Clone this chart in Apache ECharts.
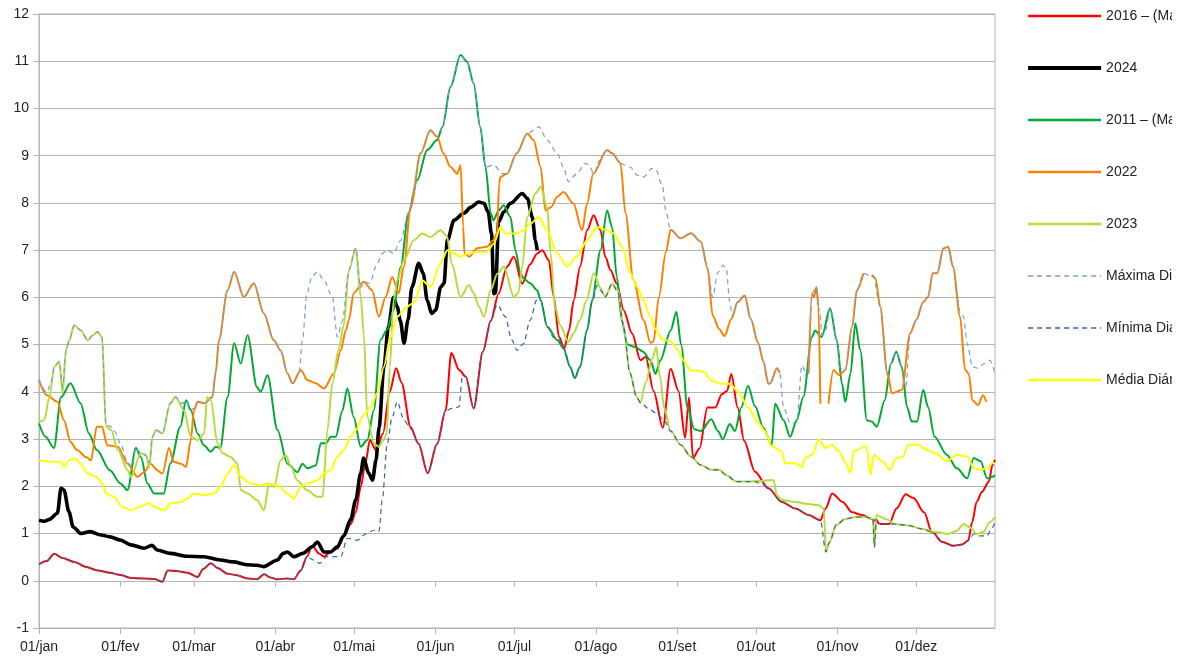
<!DOCTYPE html>
<html>
<head>
<meta charset="utf-8">
<title>Série diária</title>
<script src="https://cdn.jsdelivr.net/npm/echarts@6/dist/echarts.min.js"></script>
<style>
  html, body { margin: 0; padding: 0; background: #fff; }
  #main { width: 1172px; height: 664px; overflow: hidden; }
</style>
</head>
<body>
<div id="main"></div>
<script>
// dia do ano (0 = 01/jan) onde começa cada mês
const monthDays = [0, 31, 59, 90, 120, 151, 181, 212, 243, 273, 304, 334]
const monthLabels = ['01/jan', '01/fev', '01/mar', '01/abr', '01/mai', '01/jun', '01/jul', '01/ago', '01/set', '01/out', '01/nov', '01/dez']

const seriesNames = ['2016 – (Ma', '2024', '2011 – (Ma', '2022', '2023', 'Máxima Diária', 'Mínima Diária', 'Média Diária']

// [dia, valor]
const s2016 = [[0,0.35],[3,0.42],[5.8,0.57],[9,0.48],[13.4,0.4],[18,0.29],[22.3,0.22],[27,0.17],[31,0.12],[35,0.06],[40,0.05],[44,0.04],[47,-0.02],[49,0.22],[53,0.2],[56.5,0.17],[60.4,0.08],[62.5,0.25],[65.4,0.37],[68,0.27],[71.8,0.15],[75,0.12],[79.4,0.05],[83,0.03],[85.7,0.14],[88,0.07],[90.8,0.03],[94.6,0.05],[97,0.03],[99.7,0.22],[102,0.51],[104,0.74],[106.6,0.58],[108.5,0.51],[111,0.61],[113.6,0.68],[116,0.93],[118.7,1.2],[120.6,1.45],[122.5,1.98],[124.3,2.5],[126,2.98],[128.3,2.76],[131,3.12],[133.5,4.0],[136,4.5],[138,4.2],[141.5,3.25],[144.5,2.9],[148,2.28],[151.6,2.9],[154.8,3.6],[157,4.82],[160,4.46],[162.5,4.32],[165.5,3.65],[169,4.85],[172,5.5],[175,6.08],[178.2,6.65],[180.8,6.86],[184,6.29],[187,6.7],[189.7,6.93],[191.6,7.0],[194.1,6.79],[196,6.01],[198,5.16],[200,4.92],[201.8,5.3],[203.6,5.94],[206,6.65],[208.7,7.42],[211.2,7.74],[213.8,7.42],[215.6,6.86],[217.6,6.58],[220,6.29],[222.6,5.73],[225.8,5.24],[229,4.67],[231,4.74],[234,4.02],[237.5,3.24],[240.5,4.49],[243.5,4.02],[246,3.03],[247.5,3.88],[249,2.6],[251.5,2.8],[254.5,3.67],[257.5,3.67],[260,3.95],[262,4.02],[263.6,4.38],[266,3.67],[268.5,2.96],[272.6,2.31],[277.7,1.96],[282.8,1.67],[288,1.53],[293,1.39],[297.5,1.28],[299.5,1.53],[302,1.85],[306,1.67],[309.6,1.45],[313.5,1.39],[317,1.31],[320.5,1.2],[323.7,1.2],[326.5,1.53],[330,1.83],[333,1.75],[337,1.45],[340,1.03],[344,0.82],[348,0.74],[351.5,0.77],[353.8,0.85],[355.3,1.24],[357,1.67],[359,1.88],[361.7,2.1],[363,2.45],[364,2.56]]

const s2024 = [[0,1.28],[2,1.26],[4,1.3],[7,1.43],[8.4,1.96],[9.5,1.92],[11.4,1.46],[13,1.14],[16,1.0],[19.5,1.04],[23.6,0.97],[27,0.93],[31,0.86],[35,0.76],[40,0.69],[43,0.75],[45,0.65],[50,0.58],[56,0.52],[62.8,0.51],[69,0.44],[74,0.4],[79,0.34],[83,0.33],[85.5,0.3],[90.8,0.44],[93,0.58],[94.6,0.61],[97,0.51],[100.5,0.58],[104,0.72],[106,0.82],[108.5,0.61],[111,0.61],[113.6,0.72],[116,0.95],[118.7,1.3],[120.6,1.71],[122.5,2.28],[123.6,2.6],[125.5,2.28],[127,2.13],[128.3,2.55],[129.5,3.25],[131.3,4.52],[133,5.37],[135,6.0],[136.4,5.8],[137.6,5.5],[139,5.03],[140.5,5.52],[142,6.22],[144.6,6.72],[146.3,6.51],[147.8,5.94],[149.5,5.66],[151,5.73],[153,6.22],[154.2,6.3],[155.5,7.21],[158,7.63],[161.7,7.78],[164.5,7.91],[167.4,8.02],[169.4,7.99],[171,7.81],[172.3,7.35],[173.2,6.08],[173.8,6.1],[175,7.6],[177,7.81],[179.5,7.99],[184,8.2],[186,8.09],[187.8,7.7],[189,7.21],[189.7,7.0]]

const s2011 = [[0,3.33],[2.5,3.05],[5.7,2.81],[8.4,3.89],[12,4.18],[15.8,3.76],[19,3.12],[22,2.77],[27,2.34],[31,2.06],[33.7,1.92],[36.9,2.81],[38.8,2.62],[41.3,2.06],[43.8,1.85],[47.5,1.85],[50,2.48],[53.8,3.26],[56,3.82],[57.8,3.61],[60.4,3.12],[62.8,2.87],[65.4,2.73],[67.3,2.84],[69,2.81],[71.8,3.89],[74.3,5.03],[76.8,4.6],[79.4,5.2],[83,4.1],[84.4,4.0],[87,4.35],[90.8,3.19],[94.6,2.48],[98.4,2.3],[100.3,2.48],[102.2,2.38],[105.4,2.44],[107.3,2.91],[109.2,2.91],[111.1,3.05],[113,3.05],[115.5,3.6],[117.4,4.07],[119.8,3.47],[122.5,2.84],[125,2.98],[127.5,3.61],[130,5.1],[132.5,5.31],[135,5.73],[137.7,6.65],[140.7,7.78],[144,8.48],[147.8,9.12],[151.6,9.33],[153.6,9.61],[156.7,10.46],[160.5,11.13],[163,10.99],[165.5,10.53],[168,9.61],[170,8.76],[172,7.78],[173,7.63],[175,7.84],[176.9,7.95],[179.5,7.7],[181.4,7.0],[183.3,6.51],[184.5,6.4],[187,6.3],[189.7,6.15],[191,5.94],[193.5,5.38],[197.3,5.1],[199.7,4.92],[202.2,4.53],[204,4.29],[206,4.53],[208.7,5.31],[210.6,5.94],[213.8,7.0],[216.3,7.84],[218.2,7.49],[220,6.43],[221.9,5.52],[224,5.0],[227,4.95],[230,4.85],[232.8,4.67],[234.7,4.38],[236.6,4.67],[240.5,5.3],[242.7,5.69],[244.5,5.0],[246.9,3.67],[249.5,3.21],[252,3.17],[256,3.42],[258.5,3.17],[260.4,3.0],[263,3.32],[265,3.17],[267.4,3.67],[270,4.13],[272.6,3.7],[275.8,3.24],[279,2.88],[280.3,3.75],[283.5,3.4],[286,3.05],[288.5,3.4],[291,3.89],[294.3,5.16],[295.5,5.3],[298,5.16],[301.2,5.77],[303.8,5.09],[305.7,4.18],[307,3.79],[309,4.39],[310.8,5.45],[312.7,4.88],[315.2,3.4],[317,3.37],[319,3.26],[322,3.82],[324.4,4.6],[326.4,4.85],[328.5,4.53],[330.5,3.68],[332.3,3.37],[334.3,3.37],[336.7,4.04],[338.5,3.68],[341,3.05],[345.6,2.67],[349.5,2.38],[353.4,2.17],[355.9,2.6],[358.5,2.53],[361,2.17],[363,2.2],[364,2.24]]

const s2022 = [[0,4.25],[3,3.93],[7,3.79],[9.5,3.4],[12,2.94],[14.5,2.77],[17.9,2.62],[19.8,2.55],[22,3.26],[24,3.26],[26,2.87],[30,2.84],[33.7,2.48],[37.5,2.2],[40,2.3],[42.5,2.48],[45,2.34],[47,2.27],[49.5,2.81],[51.3,2.52],[54,2.48],[56,2.41],[57.8,2.98],[59,3.61],[60.4,3.79],[63,3.76],[66,3.89],[67.3,4.42],[68.5,5.09],[71.8,6.15],[74.3,6.54],[78,6.01],[81.8,6.3],[85.6,5.66],[89.4,5.09],[92,4.88],[94.6,4.39],[96.5,4.18],[99.7,4.46],[102.2,4.25],[105.4,4.18],[108.5,4.07],[112.3,4.39],[114.9,4.88],[116.8,5.3],[118,5.52],[119.8,6.09],[123.6,6.33],[126.8,6.15],[129.4,5.59],[132,6.01],[134.5,6.43],[137,6.09],[138.9,6.65],[141.5,7.91],[145.3,9.05],[149,9.54],[151.6,9.4],[154,9.05],[156.7,8.76],[159.2,8.62],[160.5,8.8],[161.5,7.5],[162,6.93],[163.8,6.86],[166.8,7.04],[170.5,7.07],[173,7.21],[174.4,7.36],[175.2,8.4],[175.7,8.55],[178.2,8.62],[181.9,9.05],[185.9,9.47],[188.3,9.33],[191,8.76],[192.8,7.84],[195,7.91],[197.3,8.13],[199.7,8.23],[203.5,7.99],[206.8,7.42],[208.7,7.99],[211,8.62],[216.3,9.12],[218.2,9.05],[221.4,8.84],[223.3,7.78],[226.3,6.37],[230.2,5.52],[232.8,5.04],[234,5.07],[236,6.0],[238.7,6.96],[240.5,7.43],[244.3,7.25],[248.2,7.36],[252,7.18],[254.6,6.61],[256.5,5.61],[259,5.33],[261,5.18],[263.6,5.54],[266,5.9],[268.7,6.04],[271,5.54],[273.8,5.04],[275.8,4.65],[277.7,4.17],[278.4,4.18],[281,4.5],[282,4.4],[282.5,null],[293,4.39],[294.3,6.08],[295,6.0],[296,6.22],[296.8,5.8],[297.5,3.75],[298,null],[300.6,3.75],[302.5,4.46],[304.7,4.35],[307,4.46],[309.6,5.38],[311.4,6.15],[313.9,6.51],[314.5,null],[317,6.47],[318.5,6.4],[320.3,5.8],[323,4.39],[324.8,3.97],[328.5,4.04],[331.7,5.24],[334,5.52],[336.7,5.9],[338.5,6.01],[340.3,6.51],[342,6.51],[344.4,7.04],[346.2,7.07],[348,6.65],[350.7,5.59],[352.6,4.46],[354,4.39],[355.4,3.82],[357.5,3.72],[359.4,3.93],[360.7,3.79]]

const s2023 = [[0,3.36],[2,3.4],[4,3.89],[5.8,4.53],[7.7,4.64],[9,3.97],[10.3,4.88],[11.5,5.09],[13.4,5.41],[16,5.3],[18.5,5.09],[20.5,5.2],[22.3,5.27],[24,5.16],[25.5,3.26],[27.5,3.19],[30,2.77],[33.8,2.34],[35,2.2],[38.8,2.7],[40.7,2.66],[42,2.41],[43.2,3.05],[44.5,3.19],[47,3.12],[50,3.76],[52,3.89],[55.2,3.61],[57.8,3.05],[60.4,2.98],[62.9,3.12],[64,3.89],[65.4,3.82],[68,2.91],[69.9,2.7],[73,2.62],[75.6,2.48],[76.8,1.92],[79.4,1.85],[83,1.71],[85.7,1.49],[87.6,2.06],[89.5,1.99],[92,2.55],[94,2.66],[96,2.41],[98.3,2.13],[102,1.92],[106,1.78],[108,1.78],[109.8,3.19],[111.7,4.18],[114,4.88],[116,5.4],[118,6.58],[120.6,7.04],[122.5,6.01],[123.7,5.2],[125,3.47],[127.5,2.91],[129.3,2.84],[131.2,2.98],[132.4,3.12],[133.6,4.53],[135,5.94],[136.4,6.36],[139,6.79],[142.7,7.21],[146,7.35],[149,7.28],[152.9,7.42],[155.3,7.3],[157.2,6.7],[160.5,6.01],[163.7,6.26],[165.6,6.08],[167.5,5.8],[169.4,5.59],[172,6.15],[174.5,6.5],[177,6.65],[180.8,6.01],[182.5,6.1],[184,6.65],[185.9,7.7],[189,8.2],[191,8.34],[193.5,7.91],[194.8,6.93],[196.5,5.8],[198.5,5.4],[201.6,5.06],[203.5,5.24],[206,5.52],[208.5,5.94],[211.2,6.51],[213.8,6.2],[215.6,6.01],[218.2,6.29],[220.5,6.15],[222.5,5.4],[225,4.4],[227.5,3.9],[229,3.77],[231,4.2],[233.5,4.7],[235,4.95],[236.5,4.3],[238,3.67],[240.5,3.17],[244.3,2.88],[248.2,2.63],[252,2.45],[256,2.35],[259,2.35],[261.6,2.24],[265.5,2.1],[270,2.1],[274,2.11],[277.7,2.13],[279.7,2.13],[280.9,1.81],[282.8,1.71],[288,1.67],[292,1.63],[296.9,1.6],[298.8,1.53],[299.6,0.61],[301,0.82],[303.5,1.18],[307,1.31],[311,1.35],[315,1.35],[317.5,1.31],[318.1,0.71],[318.8,1.39],[322.4,1.31],[326,1.2],[331,1.17],[336,1.1],[341.8,1.03],[346,0.99],[349.5,1.06],[352,1.2],[354.5,1.13],[357,0.99],[359.5,1.03],[362,1.24],[364,1.35]]

const maxDaily = [[0,4.25],[3,3.98],[4.5,4.2],[5.8,4.53],[7.7,4.64],[9,4.1],[10.3,4.88],[11.5,5.09],[13.4,5.41],[16,5.3],[18.5,5.09],[20.5,5.2],[22.3,5.27],[24,5.16],[25.5,3.3],[27.5,3.26],[29,3.15],[31,2.9],[33.8,2.5],[35.5,2.4],[36.9,2.81],[38.8,2.7],[40.7,2.66],[42,2.5],[43.2,3.05],[44.5,3.19],[47,3.12],[50,3.76],[52,3.89],[54.5,3.75],[56,3.82],[57.8,3.61],[59,3.65],[60.4,3.79],[63,3.76],[65.4,3.85],[66,3.89],[67.3,4.42],[68.5,5.09],[71.8,6.15],[74.3,6.54],[78,6.01],[81.8,6.3],[85.6,5.66],[89.4,5.09],[92,4.88],[94.6,4.39],[96.5,4.18],[99,4.4],[100.3,5.09],[102,6.08],[104,6.45],[106,6.54],[108.5,6.36],[111.7,6.01],[113.6,5.16],[115.5,5.5],[118,6.58],[120.6,7.04],[122.5,6.2],[123.6,6.33],[126,6.3],[128.3,6.65],[130.7,6.93],[132.6,7.0],[135,6.93],[137.7,7.21],[140.7,7.78],[142.5,8.2],[145.3,9.05],[149,9.54],[151.6,9.4],[153.6,9.61],[156.7,10.46],[160.5,11.13],[163,10.99],[165.5,10.53],[168,9.61],[170,8.76],[173.2,8.8],[176.4,8.62],[178.2,8.62],[181.9,9.05],[185.9,9.47],[190.3,9.61],[193.5,9.33],[197.3,9.05],[199.7,8.76],[201.6,8.45],[204.8,8.62],[208,8.84],[209.5,8.8],[211.2,8.62],[213.5,8.9],[216.3,9.12],[218.2,9.05],[221.4,8.84],[223.3,8.8],[225.2,8.76],[227.7,8.59],[230.2,8.55],[233.4,8.73],[235,8.69],[237.4,8.34],[238.7,7.82],[240.5,7.43],[244.3,7.25],[248.2,7.36],[252,7.18],[254.6,6.61],[256.5,6.0],[258.5,6.53],[260.5,6.68],[261.7,6.6],[263,5.9],[264,5.6],[266,5.9],[268.7,6.04],[271,5.54],[273.8,5.04],[275.8,4.65],[277.7,4.17],[278.4,4.18],[281,4.5],[282,4.4],[283.5,3.68],[286,3.33],[288.5,3.35],[290.5,4.56],[292,4.4],[293,4.39],[294.3,6.08],[296,6.22],[296.8,5.8],[297.5,5.6],[298,5.2],[299.5,5.3],[301.2,5.77],[303.8,5.09],[305,4.5],[307,4.46],[309.6,5.38],[311.4,6.15],[313.9,6.51],[316,6.47],[317.6,6.47],[320.3,5.8],[323,4.39],[324.4,4.6],[326.4,4.85],[328.5,4.53],[330,4.1],[331.7,5.24],[334,5.52],[336.7,5.9],[338.5,6.01],[340.3,6.51],[342,6.51],[344.4,7.04],[346.2,7.07],[348,6.65],[350.7,5.7],[352,5.59],[353.5,5.0],[355.4,4.53],[357.5,4.5],[360,4.6],[362,4.67],[364,4.39]]

const minDaily = [[0,0.35],[3,0.42],[5.8,0.57],[9,0.48],[13.4,0.4],[18,0.29],[22.3,0.22],[27,0.17],[31,0.12],[35,0.06],[40,0.05],[44,0.04],[47,-0.02],[49,0.22],[53,0.2],[56.5,0.17],[60.4,0.08],[62.5,0.25],[65.4,0.37],[68,0.27],[71.8,0.15],[75,0.12],[79.4,0.05],[83,0.03],[85.7,0.14],[88,0.07],[90.8,0.03],[94.6,0.05],[97,0.03],[99.7,0.22],[102,0.51],[104.5,0.44],[107,0.37],[109.5,0.51],[112,0.51],[114.9,0.51],[117.4,0.9],[121.2,0.86],[124.6,1.0],[127.5,1.07],[129.4,1.04],[130.7,1.71],[132.6,2.91],[134.5,3.47],[136.4,3.79],[139,3.4],[141.5,3.22],[144.5,2.9],[148,2.28],[151.6,2.9],[154.8,3.6],[157.3,3.65],[159.9,3.68],[161.2,4.32],[162.5,4.32],[165.5,3.65],[169,4.85],[172,5.5],[174.5,5.85],[177.5,5.6],[180,5.1],[182,4.88],[184.5,5.02],[187,5.52],[189.5,5.94],[191,5.94],[193.5,5.38],[196,5.15],[198,5.1],[200,4.9],[202.2,4.53],[204,4.29],[206,4.53],[208.7,5.31],[210.6,5.9],[212.5,6.25],[213.8,6.15],[215.6,6.01],[218.2,6.29],[220.5,6.1],[222.5,5.4],[225,4.4],[227.5,3.9],[229,3.77],[232,3.65],[235,3.55],[238,3.4],[240.5,3.17],[244.3,2.88],[248.2,2.63],[252,2.45],[256,2.35],[259,2.35],[261.6,2.24],[265.5,2.1],[270,2.1],[272.6,2.1],[275,2.05],[277.7,1.96],[282.8,1.67],[288,1.53],[293,1.39],[297.5,1.28],[299.6,0.61],[301,0.82],[303.5,1.18],[307,1.31],[311,1.35],[315,1.35],[317.5,1.31],[318.1,0.71],[318.8,1.3],[320.5,1.2],[323.7,1.2],[326,1.2],[331,1.17],[336,1.1],[340,1.03],[344,0.82],[348,0.74],[351.5,0.77],[353.8,0.85],[356,0.99],[358,0.95],[361,0.95],[362.5,1.09],[364,1.24]]

const meanDaily = [[0,2.55],[4,2.52],[8.4,2.52],[9.6,2.41],[11.5,2.55],[14,2.59],[15.8,2.48],[18.5,2.27],[21.6,2.2],[24.2,2.06],[25.5,1.85],[28.6,1.78],[31.7,1.56],[35,1.49],[38,1.56],[42,1.64],[44,1.56],[47.7,1.49],[50,1.64],[54,1.67],[56.5,1.74],[59,1.85],[62.9,1.81],[66.7,1.85],[69.2,1.99],[71.8,2.27],[74.3,2.45],[76.8,2.2],[80.6,2.06],[84.4,2.02],[87,2.06],[90.8,2.02],[94.6,1.85],[97,1.74],[99.7,1.99],[102.2,2.06],[106,2.13],[108.5,2.27],[111,2.34],[113.6,2.62],[116,2.77],[118.7,3.05],[120.6,3.19],[123.7,3.51],[126.3,3.68],[128.8,3.97],[131.3,4.53],[133.8,5.16],[136.4,5.59],[139.6,5.77],[141.5,5.85],[143,5.9],[146,6.36],[149,6.22],[152.9,6.72],[155.5,7.0],[158,6.93],[160.5,6.86],[163.2,6.93],[166.8,6.96],[170.5,6.96],[173.2,7.14],[175.7,7.49],[177.6,7.35],[182,7.35],[184.6,7.42],[187.1,7.56],[190.3,7.7],[193.5,7.42],[197.3,6.93],[201.1,6.65],[204.8,6.86],[208.7,7.21],[212.5,7.49],[216.3,7.42],[218.8,7.35],[222,7.07],[225.2,6.51],[227.7,6.22],[230.2,5.94],[232.7,5.6],[234.7,5.33],[237.4,5.11],[240.5,5.07],[243,4.9],[245.6,4.65],[248.2,4.45],[250.7,4.45],[253.3,4.42],[255.9,4.24],[259.8,4.17],[263,4.17],[266,4.02],[270,3.67],[273.8,3.35],[276.4,3.17],[279,2.85],[282.8,2.74],[284,2.49],[288,2.49],[290.5,2.42],[291.7,2.6],[294.4,2.67],[296.9,2.99],[299.5,2.81],[302,2.88],[304.6,2.74],[307.2,2.49],[309,2.28],[310.2,2.74],[312.8,2.81],[315,2.85],[316.6,2.24],[317.8,2.67],[321,2.53],[324,2.35],[326.4,2.6],[329,2.63],[331,2.88],[335,2.88],[337.6,2.78],[341.5,2.7],[345.6,2.53],[349.5,2.67],[353.4,2.63],[356,2.38],[358.5,2.35],[361,2.38],[363,2.49],[364,2.49]]

const seriesData = [s2016, s2024, s2011, s2022, s2023, maxDaily, minDaily, meanDaily]
const seriesColors = ['#ff0000', '#000000', '#00a933', '#ff8000', '#b4dc3c', '#729fcf', '#3465a4', '#ffff00']
const seriesWidths = [2, 3.6, 2, 2, 2, 1.2, 1.2, 2]
const seriesDashed = [false, false, false, false, false, true, true, false]

const gridColor = '#b3b3b3'
const textColor = '#222'

const chart = echarts.init(document.getElementById('main'), null, { renderer: 'canvas' })

const option = {
  animation: false,
  backgroundColor: '#fff',
  textStyle: { fontFamily: 'Liberation Sans, Arial, sans-serif' },
  legend: {
    orient: 'vertical',
    left: 1026,
    top: 9,
    padding: 0,
    itemWidth: 73,
    itemHeight: 14,
    itemGap: 38,
    itemStyle: { opacity: 0 },
    textStyle: { color: textColor, fontSize: 14 },
    data: seriesNames.map((name, i) => ({
      name: name,
      lineStyle: { width: seriesWidths[i] + (seriesDashed[i] ? 0.3 : 0.6) }
    }))
  },
  grid: {
    left: 39,
    right: 177,
    top: 14,
    bottom: 36,
    containLabel: false,
    outerBoundsMode: 'none',
    show: true,
    borderColor: gridColor,
    borderWidth: 1
  },
  xAxis: [
    {
      type: 'value',
      min: 0,
      max: 364,
      position: 'bottom',
      axisLine: { onZero: false, lineStyle: { color: gridColor } },
      axisTick: { show: true, length: 6, customValues: monthDays, lineStyle: { color: gridColor } },
      axisLabel: {
        customValues: monthDays,
        color: textColor,
        fontSize: 14,
        margin: 12,
        formatter: v => monthLabels[monthDays.indexOf(v)] || ''
      },
      splitLine: { show: false }
    },
    {
      // eixo sobre o zero, só com marcas
      type: 'value',
      min: 0,
      max: 364,
      position: 'bottom',
      axisLine: { onZero: true, lineStyle: { color: gridColor } },
      axisTick: { show: true, length: 6, customValues: monthDays, lineStyle: { color: gridColor } },
      axisLabel: { show: false },
      splitLine: { show: false }
    }
  ],
  yAxis: {
    type: 'value',
    min: -1,
    max: 12,
    interval: 1,
    axisLine: { show: true, lineStyle: { color: gridColor } },
    axisTick: { show: true, length: 6, lineStyle: { color: gridColor } },
    axisLabel: { color: textColor, fontSize: 14, margin: 10 },
    splitLine: { show: true, lineStyle: { color: gridColor, width: 1 } }
  },
  series: seriesNames.map((name, i) => ({
    name: name,
    type: 'line',
    xAxisIndex: 0,
    data: seriesData[i],
    showSymbol: false,
    symbol: 'none',
    smooth: 0.3,
    smoothMonotone: 'x',
    connectNulls: false,
    color: seriesColors[i],
    lineStyle: {
      color: seriesColors[i],
      width: seriesWidths[i],
      type: seriesDashed[i] ? [5, 4] : 'solid'
    },
    z: i + 2
  }))
}

chart.setOption(option)
</script>
</body>
</html>
